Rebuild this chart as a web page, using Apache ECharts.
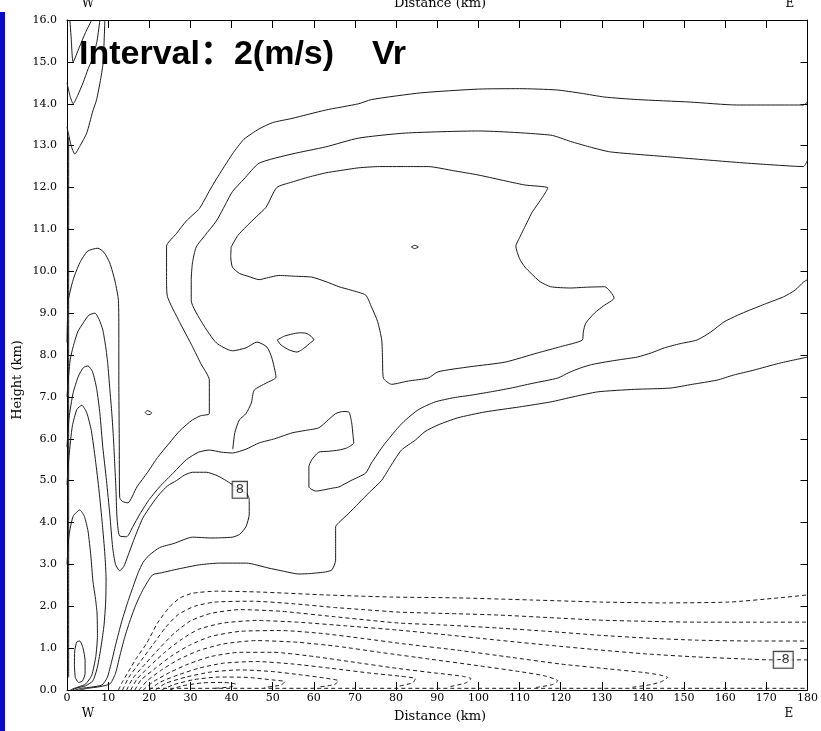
<!DOCTYPE html>
<html><head><meta charset="utf-8">
<script src="https://cdn.jsdelivr.net/npm/echarts@6/dist/echarts.min.js"></script>
<style>html,body{margin:0;padding:0;background:#fff}#c{width:821px;height:731px}</style>
</head><body><div id="c"></div>
<script>
// ---- axis ranges ----
const xRange = [0, 180], xStep = 10;
const yRange = [0, 16], yStep = 1;

// ---- solid (positive) contours: [distance km, height km] ----
const solidT1 = [[0.7,16],[1.0,15.6],[1.5,15.0],[3.0,15.35],[4.5,15.7],[6.0,16]];
const solidT2 = [[0,14.5],[0.7,14.2],[1.5,14.0],[2.6,14.2],[3.9,14.5],[5.2,14.85],[6.3,15.1],[7.3,15.5],[8.0,16]];
const solidT3 = [[0,13.45],[1,13.0],[1.9,12.8],[3.2,13.0],[4.8,13.3],[6.2,13.8],[7.2,14.1],[8.2,14.6],[8.8,15.0],[9.2,16]];
const solidEdge = [[0.4,0.3],[0.4,3],[0.4,6],[0.4,9],[0.4,11],[0.4,13.2]];
const solidL1 = [[0,8.3],[0.1,8.8],[0.3,9.3],[1.5,9.8],[3.1,10.2],[5,10.48],[7.5,10.55],[9,10.45],[10.4,10.2],[11.7,9.75],[12.5,9.3],[12.6,8.5],[12.6,7.4],[12.7,6.0],[12.8,4.6],[13.5,4.5],[14.8,4.47],[17,4.85],[19.6,5.2],[22,5.55],[24.9,5.9],[27.5,6.2],[30.5,6.45],[32.5,6.55],[34.6,6.6],[34.6,7.4],[32.5,7.8],[30.5,8.2],[27.3,8.8],[24.4,9.4],[24.2,9.8],[24.2,10.6],[26.6,10.9],[29,11.2],[32.2,11.5],[34.5,11.9],[36.3,12.2],[40.2,12.8],[43,13.15],[46.7,13.4],[50,13.55],[54.7,13.65],[62.9,13.85],[70.9,14.0],[74,14.1],[86,14.26],[100,14.35],[110,14.36],[119,14.33],[125,14.25],[130.7,14.16],[138.6,14.1],[151.5,14.04],[162.8,13.97],[179,13.97],[180,14.04]];
const solidB = [[180,12.65],[179,12.5],[170,12.55],[162.8,12.6],[146.6,12.73],[132.1,12.85],[127,12.97],[122.4,13.1],[117.6,13.25],[100,13.35],[82.3,13.3],[70.9,13.18],[62.9,12.97],[54.7,12.8],[46.7,12.58],[43,12.2],[40.2,11.9],[38,11.5],[36.3,11.2],[33.5,10.85],[31.4,10.58],[30.5,10.2],[30.2,9.8],[30.2,9.3],[32.9,8.76],[36.3,8.29],[40.2,8.1],[43.5,8.17],[46.2,8.31],[48.6,8.19],[49.8,7.93],[50.8,7.47],[48.4,7.33],[45.5,7.16],[44.8,6.85],[43.5,6.6],[41.9,6.45],[40.8,6.15],[40.3,5.75]];
const solidC = [[39.9,10.58],[41.5,10.85],[43.5,11.06],[46,11.3],[48.4,11.53],[51,12.0],[54.7,12.13],[58.8,12.25],[62.9,12.35],[66.1,12.4],[70.9,12.47],[76,12.5],[82.3,12.5],[87.8,12.5],[94,12.4],[99.9,12.3],[105.5,12.18],[111.3,12.06],[116.9,11.99],[115.8,11.8],[114.4,11.6],[113,11.4],[112,11.2],[111,11.0],[110,10.8],[109.1,10.6],[110,10.3],[111.3,10.1],[112.8,9.95],[115,9.75],[117.6,9.63],[122.4,9.6],[126.5,9.62],[130.7,9.63],[133,9.36],[130.5,9.18],[128.2,9.0],[126.1,8.76],[125.5,8.55],[125.3,8.36],[120,8.2],[114.4,8.05],[106.5,7.83],[98,7.72],[90.2,7.6],[87.8,7.45],[83,7.38],[78.9,7.3],[76.9,7.45],[76.7,7.9],[76.5,8.36],[75.5,8.8],[74.0,9.15],[72.6,9.43],[69,9.55],[66.1,9.63],[63,9.75],[59.5,9.86],[55.5,9.88],[51.5,9.9],[49,9.85],[46.7,9.8],[44,9.88],[41.9,9.95],[40.2,10.1],[39.8,10.35],[39.9,10.58]];
const solidL2 = [[0,7.0],[0.3,7.4],[0.8,7.9],[1.5,8.2],[2.6,8.55],[3.9,8.76],[5.3,8.95],[6.8,9.0],[7.8,8.85],[8.7,8.6],[9.4,8.2],[9.9,7.8],[10.4,7.2],[10.9,6.6],[11.3,6.0],[11.6,5.4],[11.9,4.8],[12.1,4.2],[12.4,3.85],[12.8,3.68],[14.5,3.66],[16,3.9],[17.7,4.2],[20,4.55],[22.5,4.85],[26,5.2],[29,5.5],[32,5.68],[34.6,5.73],[37.5,5.68],[40.2,5.66],[43.5,5.75],[46.7,5.9],[50.5,6.0],[54.7,6.14],[58,6.2],[61.2,6.26],[63.5,6.45],[65.3,6.6],[67,6.65],[68.5,6.64],[69.2,6.38],[69.5,6.1],[69.7,5.9],[68,5.78],[66.1,5.73],[63.5,5.7],[61.2,5.68],[59.5,5.5],[58.8,5.33],[58.8,5.1],[58.8,4.85],[60.5,4.75],[62.5,4.78],[64.5,4.82],[66.1,4.85],[69,5.0],[72.6,5.18],[74,5.42],[77,5.85],[80.6,6.28],[82.3,6.45],[85.5,6.7],[89.5,6.88],[94,6.98],[98.2,7.04],[103,7.12],[107.9,7.21],[113,7.32],[119.3,7.45],[122,7.58],[124.8,7.69],[127.5,7.77],[130.7,7.83],[134.5,7.89],[138.6,7.95],[142,8.05],[145.2,8.17],[149,8.27],[153.2,8.36],[156.5,8.55],[159.7,8.79],[163,8.95],[165.9,9.07],[170,9.23],[174.2,9.39],[177,9.55],[179,9.74],[180,9.8]];
const solidL3 = [[0,5.8],[0.5,6.5],[1.5,7.1],[2.8,7.5],[4,7.7],[5.1,7.74],[6.2,7.6],[7.2,7.2],[8.0,6.6],[8.7,5.8],[9.6,5.0],[10.4,4.2],[11.1,3.4],[11.8,3.0],[12.8,2.85],[13.8,2.95],[14.8,3.2],[16.3,3.6],[18.4,4.1],[20.5,4.42],[22.5,4.68],[24.5,4.88],[26.6,5.0],[28.5,5.13],[30.5,5.2],[33.9,5.2],[36.5,5.12],[38.7,5.0],[41,4.85],[42.5,4.75],[43.6,4.7],[44.2,4.6],[44.3,4.5],[44.3,4.2],[43.5,3.9],[42,3.72],[40.2,3.65],[35,3.63],[30.5,3.65],[26,3.5],[22.5,3.4],[20,3.22],[18.5,3.05],[17.3,2.8],[16,2.45],[14.6,2.05],[13.2,1.6],[12,1.15],[10.9,0.7],[9.8,0.3],[8.5,0.12],[6,0.07],[3.5,0.04],[2,0]];
const solidL4 = [[0,4.9],[0.5,5.6],[1.3,6.3],[2.4,6.7],[3.6,6.8],[4.8,6.62],[5.9,6.2],[6.9,5.5],[7.8,4.75],[8.6,3.95],[9.2,3.25],[9.5,2.65],[9.4,2.1],[9.0,1.55],[8.3,1.05],[7.4,0.55],[6.3,0.22],[4.5,0.1],[2.5,0.05],[1.3,0]];
const solidL5 = [[0,3.0],[0.5,3.7],[1.5,4.15],[3.1,4.3],[4.2,4.15],[5.1,3.8],[5.8,3.2],[6.3,2.6],[6.9,2.2],[7.3,1.84],[7.4,1.3],[7.0,0.8],[6.0,0.35],[4.5,0.14],[3,0.08],[1.5,0.03],[0.8,0]];
const solidL6 = [[2.0,0.3],[1.8,0.6],[1.9,0.95],[2.4,1.15],[3.1,1.17],[3.9,1.0],[4.4,0.7],[4.4,0.4],[3.8,0.22],[2.8,0.18],[2.0,0.3]];
const solidE = [[180,7.95],[173,7.8],[167,7.64],[162,7.52],[158,7.4],[152,7.3],[146.6,7.21],[138,7.18],[129,7.12],[123,7.0],[117.6,6.88],[110,6.76],[101.6,6.64],[95,6.5],[90.2,6.33],[87,6.17],[84.7,5.97],[81.3,5.73],[79,5.4],[76.5,5.01],[73.5,4.72],[70.9,4.46],[68.5,4.22],[66.1,4.0],[65.3,3.9],[65.3,3.46],[65.3,3.1],[64.4,2.87],[62.9,2.82],[59,2.78],[56.4,2.77],[52,2.85],[49.1,2.91],[43.6,3.03],[37,3.03],[32.2,2.99],[29,2.93],[26.1,2.87],[23,2.8],[20.8,2.75],[18.5,2.4],[16.8,2.05],[15.3,1.65],[14,1.25],[12.8,0.8],[11.8,0.4],[10.5,0.15],[8,0.08],[5,0.04],[3,0]];
const solidEye = [[51.1,8.36],[52.8,8.45],[54.7,8.5],[56.5,8.53],[58.1,8.52],[59.3,8.45],[60,8.36],[59,8.28],[58.1,8.2],[57,8.12],[55.9,8.07],[54,8.12],[52,8.24],[51.1,8.36]];
const solidDotA = [[83.7,10.58],[84.5,10.62],[85.4,10.58],[84.5,10.54],[83.7,10.58]];
const solidDotB = [[19.0,6.63],[19.5,6.67],[20.2,6.65],[20.6,6.62],[20.2,6.58],[19.5,6.58],[19.0,6.63]];

// ---- dashed (negative) contours ----
const dashD1 = [[12.5,0],[13.5,0.2],[15,0.45],[17,0.78],[19.4,1.12],[22,1.6],[24.9,1.98],[27.5,2.2],[30.5,2.31],[36.3,2.36],[46.7,2.34],[62.9,2.27],[78.9,2.22],[95,2.2],[112.7,2.15],[130,2.1],[145,2.08],[161,2.1],[173,2.2],[180,2.27]];
const dashD2 = [[13.5,0],[15,0.3],[18,0.7],[21,1.1],[24,1.5],[27,1.8],[31,2.0],[36,2.1],[45,2.12],[55,2.06],[65,1.97],[72,1.92],[80.6,1.86],[95,1.82],[104.8,1.79],[117,1.73],[129,1.67],[141,1.64],[153,1.62],[167,1.62],[180,1.62]];
const dashD3 = [[14.5,0],[16,0.28],[19,0.62],[22.5,1.0],[26,1.35],[30,1.65],[35,1.83],[42,1.92],[52,1.88],[65,1.75],[80.6,1.6],[92,1.55],[104.8,1.48],[117,1.4],[129,1.31],[141,1.24],[153,1.19],[167,1.17],[180,1.17]];
const dashD4 = [[15.5,0],[17,0.26],[20,0.56],[24,0.92],[28,1.22],[32,1.45],[38,1.6],[46,1.66],[56,1.62],[68,1.53],[80.6,1.43],[92,1.32],[104.8,1.19],[117,1.07],[129,0.96],[141,0.86],[153,0.79],[165,0.74],[171,0.72],[180,0.72]];
const dashD5 = [[16.5,0],[18,0.24],[21.5,0.52],[25.5,0.82],[30,1.08],[35,1.28],[42,1.4],[52,1.42],[62,1.35],[72,1.23],[82,1.1],[95,0.95],[108,0.78],[120,0.62],[132,0.5],[140,0.42],[144,0.36],[146,0.3],[144.5,0.2],[142,0.13],[137,0.06]];
const dashD6 = [[17.5,0],[19.5,0.22],[23,0.48],[27,0.72],[32,0.94],[38,1.1],[46,1.18],[56,1.14],[66,1.04],[76,0.9],[88,0.74],[100,0.58],[110,0.44],[116,0.34],[119.3,0.22],[118,0.13],[114,0.06]];
const dashD7 = [[18.5,0],[21,0.2],[25,0.42],[29.5,0.62],[35,0.8],[42,0.9],[50,0.9],[60,0.8],[70,0.66],[80,0.52],[90,0.4],[96,0.33],[98.2,0.27],[97,0.17],[93,0.08]];
const dashD8 = [[20,0],[22.5,0.18],[27,0.36],[32,0.52],[38,0.64],[46,0.68],[55,0.62],[64,0.52],[74,0.4],[81,0.33],[84.7,0.27],[84,0.17],[80,0.08]];
const dashD9 = [[21.5,0],[24,0.16],[29,0.31],[35,0.43],[42,0.48],[50,0.44],[57,0.36],[63,0.28],[66,0.22],[65,0.13],[61,0.07]];
const dashD10 = [[23,0],[26,0.13],[31,0.25],[37,0.31],[44,0.3],[50,0.24],[53,0.2],[52,0.12],[48,0.06]];
const dashD11 = [[25,0],[28,0.1],[33,0.17],[38,0.18],[41,0.14],[40,0.08],[36,0.04]];
const dashBottom = [[20,0.04],[60,0.04],[100,0.04],[140,0.04],[180,0.04]];

// ---- contour value labels: [x, y, text] ----
const contourLabels = [[42.0,4.78,'8'],[174.1,0.72,'-8']];

const solidLines = [solidT1,solidT2,solidT3,solidEdge,solidL1,solidB,solidC,solidL2,solidL3,solidL4,solidL5,solidL6,solidE,solidEye,solidDotA,solidDotB];
const dashedLines = [dashD1,dashD2,dashD3,dashD4,dashD5,dashD6,dashD7,dashD8,dashD9,dashD10,dashD11,dashBottom];

const LINE_COLOR = '#1a1a1a';
const series = [];
solidLines.forEach(d => series.push({
  type:'line', data:d, symbol:'none', smooth:0.2, silent:true, animation:false,
  lineStyle:{color:LINE_COLOR, width:1}, z:2
}));
dashedLines.forEach(d => series.push({
  type:'line', data:d, symbol:'none', smooth:0.2, silent:true, animation:false,
  lineStyle:{color:LINE_COLOR, width:1, type:[4,3]}, z:2
}));
series.push({
  type:'scatter', data:contourLabels, symbol:'rect', symbolSize:2, silent:true, z:5,
  itemStyle:{color:'rgba(0,0,0,0)'},
  label:{show:true, position:'inside', formatter:p=>p.data[2], color:'#000', fontSize:13,
    fontFamily:'DejaVu Sans', backgroundColor:'#fff', borderColor:'#000', borderWidth:1, padding:[2,3,1,3]},
  labelLayout:{hideOverlap:false}
});

const serifFont = 'DejaVu Serif';
function xAx(pos, showLabel){
  return {type:'value', min:xRange[0], max:xRange[1], interval:xStep, position:pos,
    axisLine:{show:true, onZero:false, lineStyle:{color:'#000', width:1}},
    axisTick:{show:true, inside:true, length:8, lineStyle:{color:'#000'}},
    axisLabel:{show:showLabel, color:'#000', fontFamily:serifFont, fontSize:11, margin:3},
    splitLine:{show:false}};
}
function yAx(pos, showLabel){
  return {type:'value', min:yRange[0], max:yRange[1], interval:yStep, position:pos,
    axisLine:{show:true, onZero:false, lineStyle:{color:'#000', width:1}},
    axisTick:{show:true, inside:true, length:7, lineStyle:{color:'#000'}},
    axisLabel:{show:showLabel, color:'#000', fontFamily:serifFont, fontSize:11, margin:10,
      formatter:v=>v.toFixed(1)},
    splitLine:{show:false}};
}

const chart = echarts.init(document.getElementById('c'), null, {renderer:'canvas'});
chart.setOption({
  animation:false,
  backgroundColor:'#fff',
  grid:{left:67, right:10, top:20, bottom:41, containLabel:false},
  xAxis:[xAx('bottom', true), xAx('top', false)],
  yAxis:[yAx('left', true), yAx('right', false)],
  series: series.map(s => Object.assign(s, {xAxisIndex:0, yAxisIndex:0})),
  graphic:[
    {type:'rect', shape:{x:0, y:12, width:5, height:719}, style:{fill:'#0a0ac8'}, silent:true},
    {type:'text', style:{text:'Interval：2(m/s)', x:79, y:55, font:'bold 34px "Liberation Sans", Arial, "Noto Sans CJK SC"', fill:'#000', verticalAlign:'middle'}, z:10},
    {type:'text', style:{text:'Vr', x:372, y:55, font:'bold 34px "Liberation Sans", Arial', fill:'#000', verticalAlign:'middle'}, z:10},
    {type:'text', style:{text:'W', x:88, y:4, font:'12px "DejaVu Serif"', fill:'#000', align:'center', verticalAlign:'middle'}},
    {type:'text', style:{text:'Distance (km)', x:440, y:4, font:'13px "DejaVu Serif"', fill:'#000', align:'center', verticalAlign:'middle'}},
    {type:'text', style:{text:'E', x:790, y:4, font:'12px "DejaVu Serif"', fill:'#000', align:'center', verticalAlign:'middle'}},
    {type:'text', style:{text:'W', x:88, y:714, font:'12px "DejaVu Serif"', fill:'#000', align:'center', verticalAlign:'middle'}},
    {type:'text', style:{text:'Distance (km)', x:440, y:717, font:'13px "DejaVu Serif"', fill:'#000', align:'center', verticalAlign:'middle'}},
    {type:'text', style:{text:'E', x:789, y:714, font:'12px "DejaVu Serif"', fill:'#000', align:'center', verticalAlign:'middle'}},
    {type:'text', x:18, y:380, rotation:Math.PI/2, style:{text:'Height (km)', x:0, y:0, font:'13px "DejaVu Serif"', fill:'#000', align:'center', verticalAlign:'middle'}}
  ]
});
</script></body></html>
